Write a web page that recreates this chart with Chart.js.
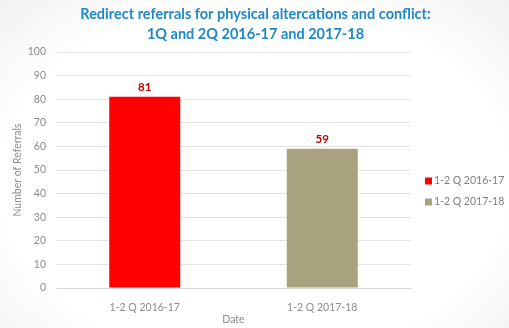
<!DOCTYPE html>
<html>
<head>
<meta charset="utf-8">
<script src="https://cdn.jsdelivr.net/npm/chart.js@4.4.1/dist/chart.umd.min.js"></script>
<style>
  html, body { margin: 0; padding: 0; background: #fff; }
  #wrap {
    width: 509px; height: 328px; position: relative;
    background: radial-gradient(ellipse at 50% 55%, #ffffff 70%, #f1f1f1 100%);
  }
</style>
</head>
<body>
<div id="wrap"><canvas id="referralChart" width="509" height="328"></canvas></div>
<script>
// ------------------------
// Chart data
// ------------------------
const periods = ['1-2 Q 2016-17', '1-2 Q 2017-18'];
const referrals = [81, 59];
const barColors = ['#FF0000', '#A8A27F'];
const yTicks = [0, 10, 20, 30, 40, 50, 60, 70, 80, 90, 100];
const titleLines = ['Redirect referrals for physical altercations and conflict:',
                    '1Q and 2Q 2016-17 and 2017-18'];

const tickGray = '#8C8C8C';
const fontFamily = 'Lato, "Open Sans", sans-serif';

// Title centred over the whole canvas (legend sits to the right of the plot)
const pageTitle = {
    id: 'pageTitle',
    afterDraw(chart) {
        const ctx = chart.ctx;
        ctx.save();
        ctx.font = 'bold 14.5px ' + fontFamily;
        ctx.fillStyle = '#1F88C8';
        ctx.textAlign = 'center';
        ctx.textBaseline = 'middle';
        titleLines.forEach((line, i) => {
            ctx.fillText(line, chart.width / 2 + 1, 14 + i * 20);
        });
        ctx.restore();
    }
};

// Value labels above each bar
const valueLabels = {
    id: 'valueLabels',
    afterDatasetsDraw(chart) {
        const ctx = chart.ctx;
        const meta = chart.getDatasetMeta(0);
        ctx.save();
        ctx.font = 'bold 11.5px ' + fontFamily;
        ctx.fillStyle = '#C00000';
        ctx.textAlign = 'center';
        ctx.textBaseline = 'bottom';
        meta.data.forEach((bar, i) => {
            ctx.fillText(referrals[i], bar.x, bar.y - 4);
        });
        ctx.restore();
    }
};

// Legend on the right, one entry per period
const sideLegend = {
    id: 'sideLegend',
    afterDraw(chart) {
        const ctx = chart.ctx;
        const x = chart.chartArea.right + 14;
        ctx.save();
        ctx.font = '10.5px ' + fontFamily;
        ctx.textBaseline = 'middle';
        periods.forEach((label, i) => {
            const y = 181 + i * 21;
            ctx.fillStyle = barColors[i];
            ctx.fillRect(x, y - 3.5, 7, 7);
            ctx.fillStyle = '#7F7F7F';
            ctx.fillText(label, x + 9, y);
        });
        ctx.restore();
    }
};

new Chart(document.getElementById('referralChart'), {
    type: 'bar',
    data: {
        labels: periods,
        datasets: [{
            label: 'Referrals',
            data: referrals,
            backgroundColor: barColors,
            categoryPercentage: 0.4,
            barPercentage: 1
        }]
    },
    options: {
        responsive: false,
        animation: false,
        layout: { padding: { top: 52, right: 98, left: 0, bottom: 0 } },
        plugins: {
            legend: { display: false },
            tooltip: { enabled: false },
            title: { display: false }
        },
        scales: {
            x: {
                grid: { display: false },
                border: { color: '#D9D9D9' },
                afterFit(scale) { scale.height = 40; },
                ticks: { color: tickGray, font: { family: fontFamily, size: 10.5 }, padding: 5 },
                title: {
                    display: true, text: 'Date', color: tickGray,
                    font: { family: fontFamily, size: 10.5 }, padding: { top: 0, bottom: 2 }
                }
            },
            y: {
                min: 0, max: 100,
                afterBuildTicks(scale) { scale.ticks = yTicks.map(v => ({ value: v })); },
                afterFit(scale) { scale.width = 56; },
                grid: { color: '#E3E3E3', drawTicks: false },
                border: { display: false },
                ticks: { color: tickGray, font: { family: fontFamily, size: 10.5 }, padding: 10 },
                title: {
                    display: true, text: 'Number of Referrals', color: tickGray,
                    font: { family: fontFamily, size: 10.5 }, padding: { top: 11, bottom: 0 }
                }
            }
        }
    },
    plugins: [valueLabels, sideLegend, pageTitle]
});
</script>
</body>
</html>
